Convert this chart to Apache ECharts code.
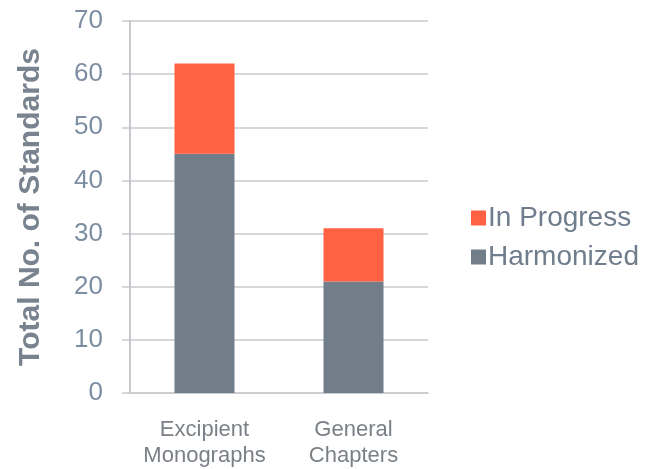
<!DOCTYPE html>
<html>
<head>
<meta charset="utf-8">
<script src="https://cdn.jsdelivr.net/npm/echarts@6/dist/echarts.min.js"></script>
<style>html,body{margin:0;padding:0;background:#fff;}#c{width:654px;height:469px;}</style>
</head>
<body>
<div id="c"></div>
<script>
const categories = ['Excipient\nMonographs', 'General\nChapters'];
const harmonized = [45, 21];
const inProgress = [17, 10];
const yTicks = {min: 0, max: 70, interval: 10};

const chart = echarts.init(document.getElementById('c'));
chart.setOption({
  animation: false,
  backgroundColor: '#ffffff',
  grid: {left: 130, right: 226, top: 21, bottom: 71},
  legend: {
    orient: 'vertical', left: 466, top: 199,
    itemWidth: 15, itemHeight: 15, itemGap: 11, icon: 'rect',
    textStyle: {fontFamily: 'Liberation Sans', fontSize: 28, color: '#6f7d8c', padding: [0,0,0,-3]},
    data: ['In Progress', 'Harmonized']
  },
  xAxis: {
    type: 'category', data: categories,
    axisLine: {show: true, lineStyle: {color: '#c8cacd', width: 1.5}},
    axisTick: {show: false},
    axisLabel: {interval: 0, margin: 24, fontFamily: 'Liberation Sans', fontSize: 22, lineHeight: 26, color: '#7b8086'}
  },
  yAxis: {
    type: 'value', min: yTicks.min, max: yTicks.max, interval: yTicks.interval,
    name: 'Total No. of Standards', nameLocation: 'middle', nameGap: 84,
    nameTextStyle: {fontFamily: 'Liberation Sans', fontSize: 30, fontWeight: 'bold', color: '#78838f'},
    axisLine: {show: true, lineStyle: {color: '#b3b7bc', width: 1.5}},
    axisTick: {show: true, length: 8, lineStyle: {color: '#c8cacd', width: 1.5}},
    splitLine: {show: true, lineStyle: {color: '#c8cacd', width: 1.5}},
    axisLabel: {margin: 27, fontFamily: 'Liberation Sans', fontSize: 26, color: '#7d8ea3'}
  },
  series: [
    {name: 'Harmonized', type: 'bar', stack: 's', data: harmonized, barWidth: 60, itemStyle: {color: '#717e8a'}},
    {name: 'In Progress', type: 'bar', stack: 's', data: inProgress, barWidth: 60, itemStyle: {color: '#ff6142'}}
  ]
});
</script>
</body>
</html>
